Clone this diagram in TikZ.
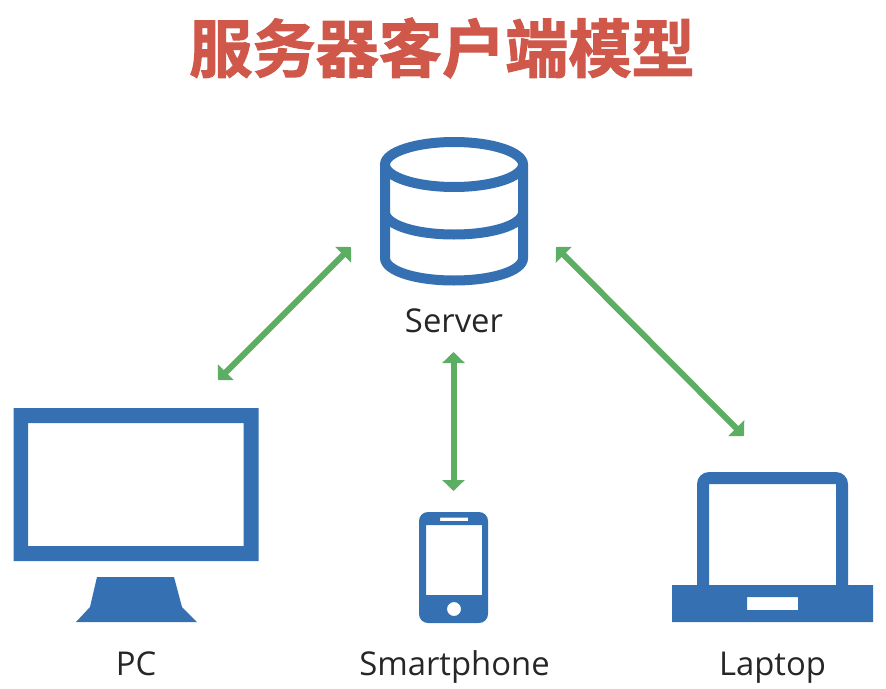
\documentclass[tikz,border=0pt]{standalone}
\usepackage{fontspec}
\setmainfont{Open Sans}
\newfontfamily\cjk{Noto Sans CJK SC Bold}[FakeBold=1.6]
\usetikzlibrary{arrows.meta}
\definecolor{iconblue}{HTML}{3470B2}
\definecolor{linkgreen}{HTML}{5CAE62}
\definecolor{titlered}{HTML}{D0584A}
\definecolor{labelink}{HTML}{262626}
\tikzset{
  icon/.style={fill=iconblue,draw=none,even odd rule},
  iconline/.style={draw=iconblue,line width=10pt,fill=none},
  link/.style={draw=linkgreen,line width=6pt,{Triangle[length=11pt,width=22pt,inset=0pt]}-{Triangle[length=11pt,width=22pt,inset=0pt]}},
  lbl/.style={font=\fontsize{32.8}{38}\selectfont,text=labelink,inner sep=0pt,anchor=base}
}
\begin{document}
\begin{tikzpicture}[x=1pt,y=-1pt]
\useasboundingbox (0,0) rectangle (886,688);
\node[inner sep=0pt,text=titlered,font=\cjk\fontsize{63.2}{70}\selectfont,anchor=center] (title) at (442,48) {服务器客户端模型};
% server
\draw[iconline] (454,164.5) ellipse [x radius=69,y radius=22.5];
\draw[iconline] (385,164.5) -- (385,258) .. controls (385,271) and (416,280.5) .. (454,280.5) .. controls (492,280.5) and (523,271) .. (523,258) -- (523,164.5);
\draw[iconline] (385,212) .. controls (385,225) and (416,234.5) .. (454,234.5) .. controls (492,234.5) and (523,225) .. (523,212);
\node[lbl] (server) at (454,332) {Server};
% pc
\fill[icon] (13.5,408) rectangle (258.5,561) (28,423) rectangle (243.5,546);
\fill[icon] (97,577) -- (174,577) -- (182,607) -- (197,622) -- (76,622) -- (90,607) -- cycle;
\node[lbl] (pc) at (136,675) {PC};
% phone
\fill[icon] (419,521) arc[start angle=180,end angle=270,radius=9] -- (479,512) arc[start angle=270,end angle=360,radius=9] -- (488,614) arc[start angle=0,end angle=90,radius=9] -- (428,623) arc[start angle=90,end angle=180,radius=9] -- cycle
 (426,525) rectangle (482,595)
 (440,517.5) rectangle (468,521)
 (454,609) circle [radius=7];
\node[lbl] (phone) at (454.5,675) {Smartphone};
% laptop
\fill[icon] (697,585) -- (697,484) arc[start angle=180,end angle=270,radius=12] -- (836,472) arc[start angle=270,end angle=360,radius=12] -- (848,585) -- cycle
 (709,484) rectangle (836,585);
\fill[icon] (672,585) rectangle (873,622) (747,597) rectangle (798,610);
\node[lbl] (laptop) at (772.5,675) {Laptop};
% connectors
\coordinate (pcA) at (218,380); \coordinate (pcB) at (351,247);
\coordinate (phA) at (453.5,352); \coordinate (phB) at (453.5,491);
\coordinate (lpA) at (556,247); \coordinate (lpB) at (744,436);
\draw[link] (pcA) -- (pcB);
\draw[link] (phA) -- (phB);
\draw[link] (lpA) -- (lpB);
\end{tikzpicture}
\end{document}
